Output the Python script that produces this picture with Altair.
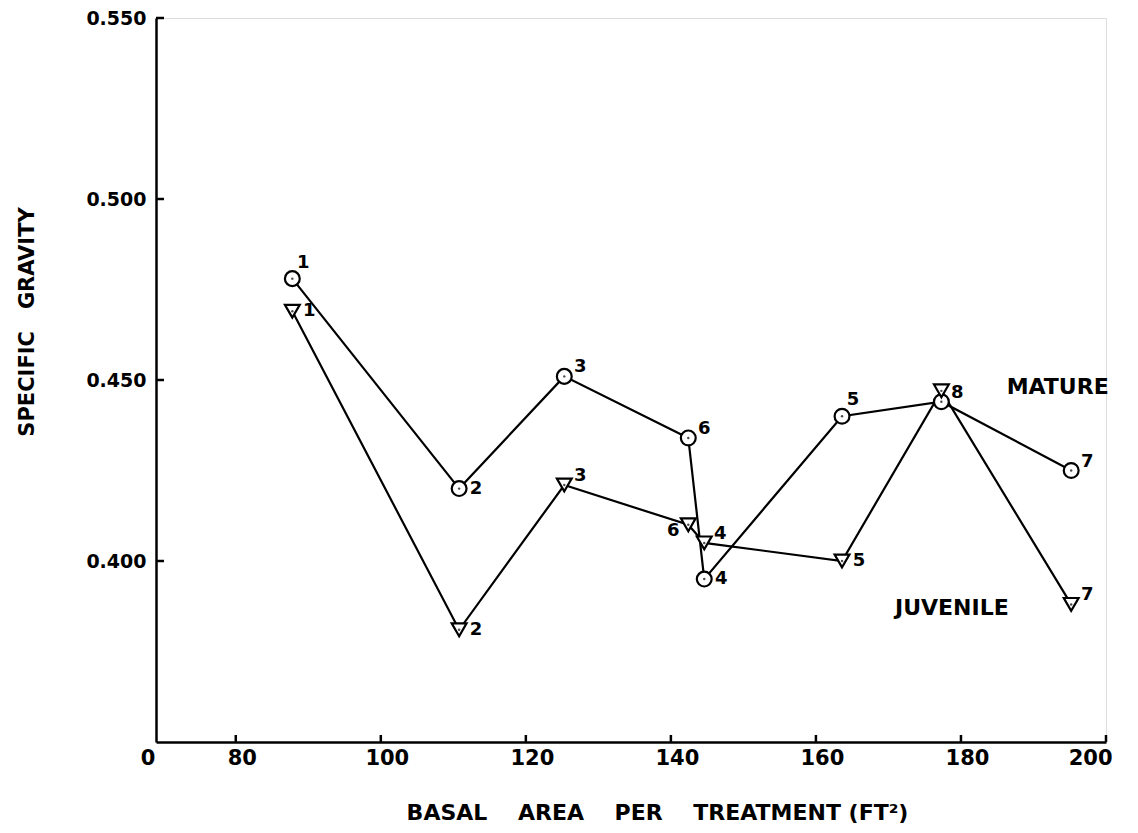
import altair as alt
import pandas as pd

# ---- data ----
treatment = ["1", "2", "3", "6", "4", "5", "8", "7"]
basal_area = [87.8, 110.8, 125.3, 142.4, 144.6, 163.6, 177.3, 195.2]
mature_sg = [0.478, 0.420, 0.451, 0.434, 0.395, 0.440, 0.444, 0.425]
juvenile_sg = [0.469, 0.381, 0.421, 0.410, 0.405, 0.400, 0.447, 0.388]
mature_label_pos = ["up", "right", "upright", "upright", "right", "up", "upright", "upright"]
juvenile_label_pos = ["right", "right", "upright", "left", "upright", "right", "none", "upright"]
series_names = ["MATURE", "JUVENILE"]
x_ticks = [80, 100, 120, 140, 160, 180, 200]
y_ticks = [0.400, 0.450, 0.500, 0.550]
annotation_text = ["MATURE", "JUVENILE"]
annotation_x = [186.3, 170.9]
annotation_y = [0.448, 0.387]
origin_label = ["0"]

rows = []
for name, vals, poss in [("MATURE", mature_sg, mature_label_pos),
                         ("JUVENILE", juvenile_sg, juvenile_label_pos)]:
    for t, x, y, p in zip(treatment, basal_area, vals, poss):
        rows.append({"series": name, "treatment": t, "basal": x, "sg": y, "pos": p})
df = pd.DataFrame(rows)
ann = pd.DataFrame({"basal": annotation_x, "sg": annotation_y, "label": annotation_text})
xt = pd.DataFrame({"basal": x_ticks})
yt = pd.DataFrame({"sg": y_ticks})
org = pd.DataFrame({"basal": [69], "sg": [0.35], "label": origin_label})

FONT = "DejaVu Sans"
W, H = 950, 724
SP = "\u00a0"

xs = alt.Scale(domain=[69, 200], nice=False, zero=False)
ys = alt.Scale(domain=[0.35, 0.55], nice=False, zero=False)
shape_scale = alt.Scale(domain=series_names, range=["circle", "triangle-down"])

X = alt.X("basal:Q", scale=xs, axis=alt.Axis(
    values=x_ticks, format="d", ticks=False, grid=False,
    domainColor="black", domainWidth=2.5,
    labelFontSize=21, labelFontWeight="bold", labelPadding=5, labelOffset=6,
    labelColor="black", labelFont=FONT,
    title=f"BASAL{SP*4}AREA{SP*4}PER{SP*4}TREATMENT (FT\u00b2)",
    titleX=501, titleY=70, titleFontSize=22, titleFontWeight="bold", titleFont=FONT,
    titleAlign="center", titleBaseline="middle", titleColor="black"))
Y = alt.Y("sg:Q", scale=ys, axis=alt.Axis(
    values=y_ticks, format=".3f", ticks=False, grid=False,
    domainColor="black", domainWidth=2.5,
    labelFontSize=19, labelFontWeight="bold", labelPadding=10, labelColor="black",
    labelFont=FONT,
    title=f"SPECIFIC{SP*3}GRAVITY",
    titleX=-129, titleY=303.5, titleAngle=270, titleFontSize=21, titleFontWeight="bold",
    titleFont=FONT, titleAlign="center", titleBaseline="middle", titleColor="black"))

base = alt.Chart(df)

lines = base.mark_line(color="black", strokeWidth=2.2).encode(
    x=X, y=Y, detail="series:N", order="basal:Q")

points = base.mark_point(filled=True, color="white", stroke="black", strokeWidth=2.2,
                         size=220, opacity=1).encode(
    x=X, y=Y, shape=alt.Shape("series:N", scale=shape_scale, legend=None))

dots = base.mark_point(filled=True, color="black", size=6, shape="circle").encode(x=X, y=Y)

offsets = {"right": (17, 0), "upright": (16, -9), "up": (11, -16), "left": (-15, 6)}
label_layers = []
for cat, (dx, dy) in offsets.items():
    label_layers.append(
        base.transform_filter(alt.datum.pos == cat).mark_text(
            dx=dx, dy=dy, fontSize=18, fontWeight="bold", font=FONT, color="black",
            align="center", baseline="middle").encode(x=X, y=Y, text="treatment:N"))

xtick_rules = alt.Chart(xt).mark_rule(color="black", strokeWidth=2.5).encode(
    x=X, y=alt.value(H), y2=alt.value(H - 7))
ytick_rules = alt.Chart(yt).mark_rule(color="black", strokeWidth=2.5).encode(
    y=Y, x=alt.value(0), x2=alt.value(8))

annotations = alt.Chart(ann).mark_text(align="left", baseline="middle", fontSize=22,
                                       fontWeight="bold", font=FONT, color="black").encode(
    x=X, y=Y, text="label:N")

origin = alt.Chart(org).mark_text(align="center", baseline="middle", fontSize=21,
                                  fontWeight="bold", font=FONT, color="black",
                                  dx=-8, dy=17).encode(
    x=X, y=Y, text="label:N")

chart = alt.layer(lines, points, dots, *label_layers, xtick_rules, ytick_rules,
                  annotations, origin).properties(
    width=W, height=H,
    autosize=alt.AutoSizeParams(type="none"),
    padding={"left": 148, "top": 10, "right": 20, "bottom": 86},
).configure_view(stroke="transparent", strokeWidth=0).configure(background="white")

chart.save("out.html", embed_options={"renderer": "svg", "actions": False})
